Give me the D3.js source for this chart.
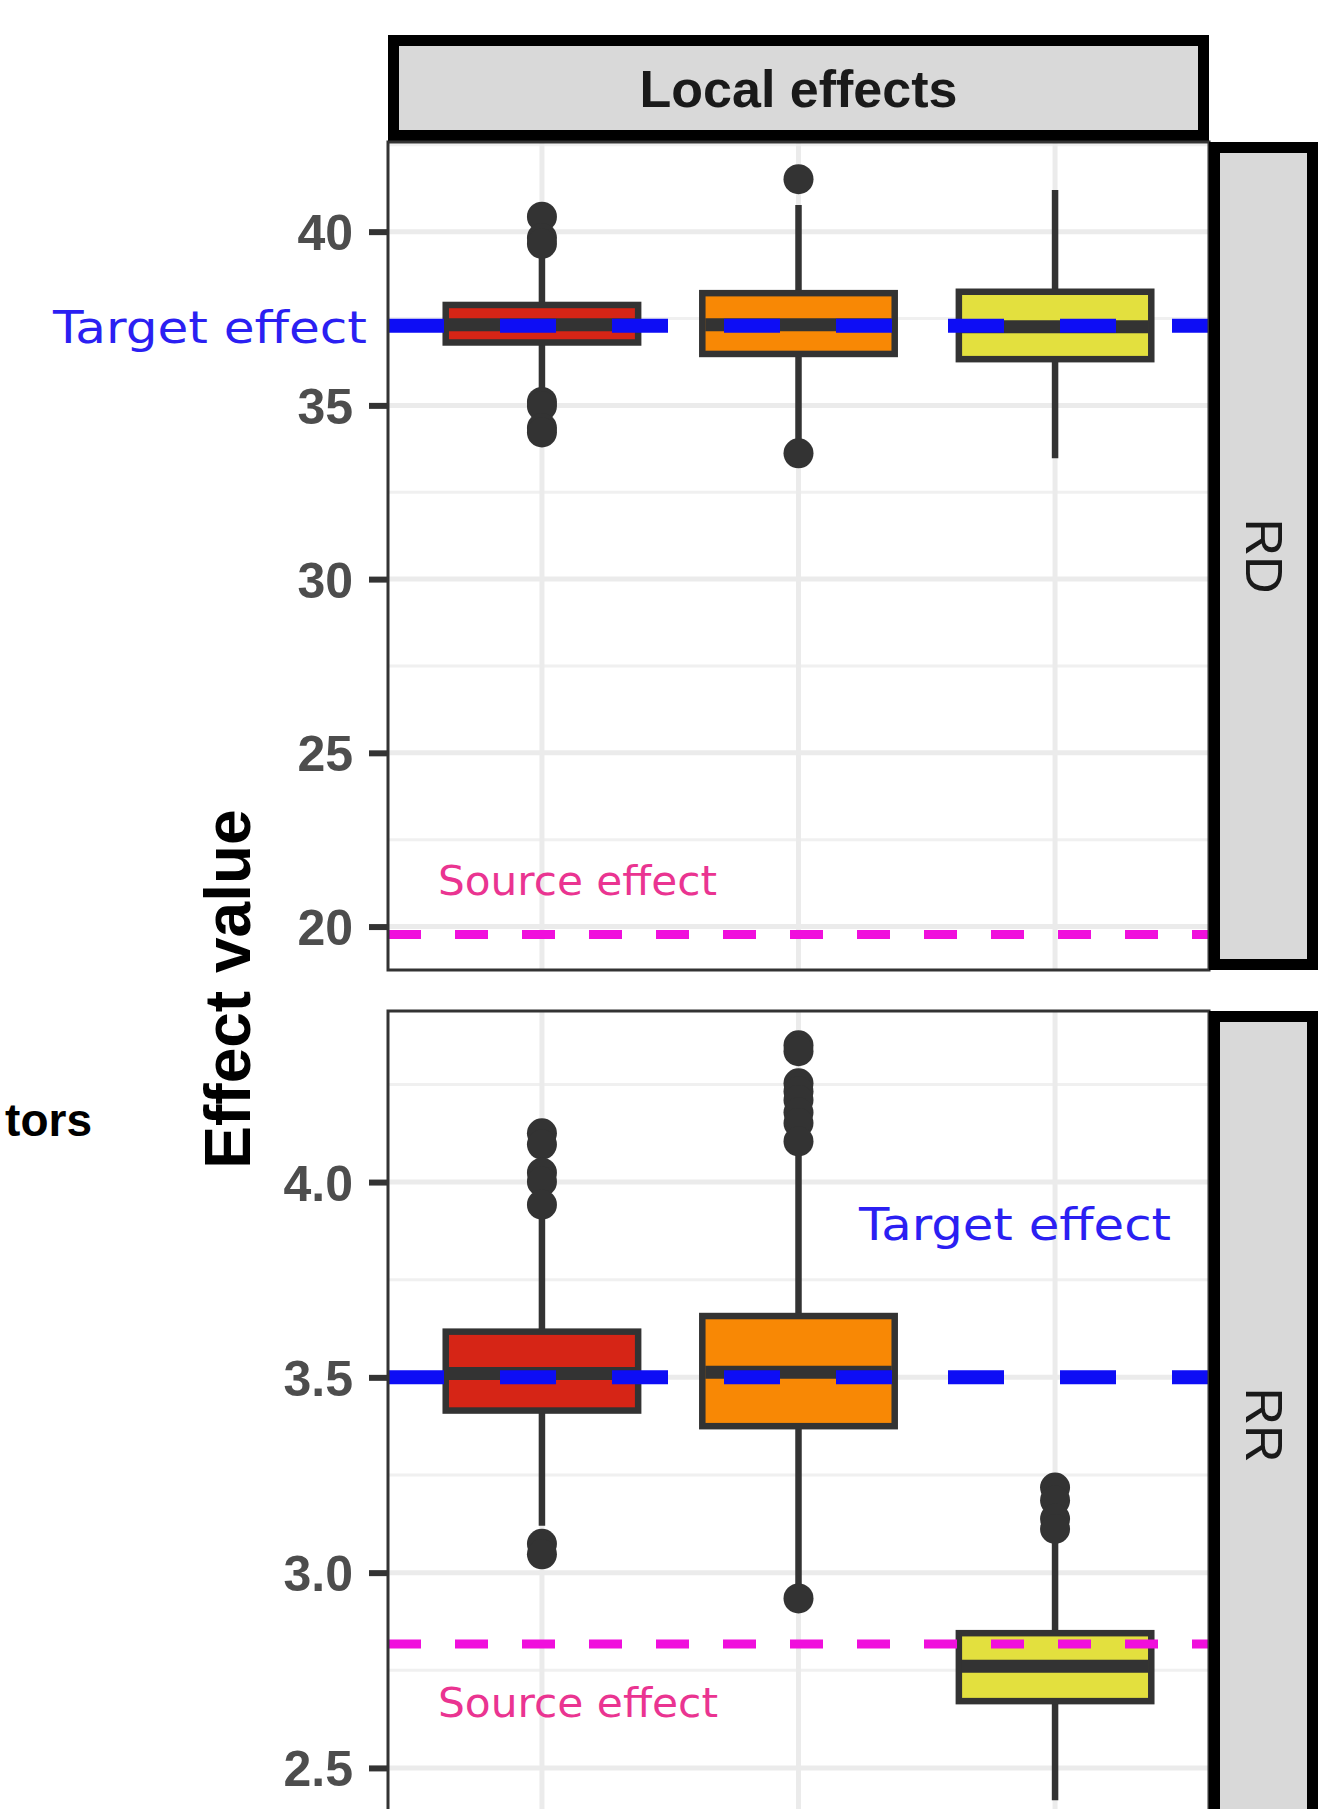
<!DOCTYPE html>
<html>
<head>
<meta charset="utf-8">
<script src="https://cdn.jsdelivr.net/npm/d3@7"></script>
<style>
    body { margin: 0; background: #fff; }
    svg { display: block; }
</style>
</head>
<body>
<svg id="svg"></svg>
<script>
// estimators (their axis labels are cropped off the bottom of the figure)
const estimators = ['Estimator 1', 'Estimator 2', 'Estimator 3']
const estimatorColors = ['#d62516', '#f88805', '#e3e03e']

// RD panel box statistics
const rdLower = [35.4, 34.0, 33.48]
const rdQ1 = [36.81, 36.48, 36.33]
const rdMedian = [37.32, 37.32, 37.26]
const rdQ3 = [37.89, 38.23, 38.27]
const rdUpper = [39.5, 40.77, 41.2]
const rdOutliers = [
    [40.43, 39.82, 39.65, 35.1, 34.98, 34.35, 34.22],
    [41.51, 33.62],
    []
]

// RR panel box statistics
const rrLower = [3.12, 2.97, 2.417]
const rrQ1 = [3.415, 3.375, 2.671]
const rrMedian = [3.51, 3.513, 2.76]
const rrQ3 = [3.617, 3.657, 2.845]
const rrUpper = [3.92, 4.08, 3.08]
const rrOutliers = [
    [4.125, 4.096, 4.024, 4.001, 3.942, 3.074, 3.047],
    [4.35, 4.335, 4.253, 4.232, 4.21, 4.178, 4.151, 4.104, 2.934],
    [3.218, 3.185, 3.138, 3.112]
]

// reference lines
const measures = ['RD', 'RR']
const targetEffect = [37.29, 3.5]
const sourceEffect = [19.77, 2.817]

// axes
const rdDomain = [18.75, 42.58]
const rdTicks = [20, 25, 30, 35, 40]
const rdMinor = [22.5, 27.5, 32.5, 37.5, 42.5]
const rrDomain = [2.318, 4.438]
const rrTicks = [2.5, 3.0, 3.5, 4.0]
const rrMinor = [2.75, 3.25, 3.75, 4.25]

const W = 1324
const H = 1809
const panelLeft = 388
const panelRight = 1209
const handFont = '"DejaVu Sans", sans-serif'
const mainFont = '"Liberation Sans", Arial, Helvetica, sans-serif'

const svg = d3.select('#svg')
    .attr('width', W)
    .attr('height', H)
    .attr('xmlns', 'http://www.w3.org/2000/svg')

svg.append('rect')
    .attr('width', W).attr('height', H)
    .attr('fill', '#fff')

const x = d3.scaleBand()
    .domain(estimators)
    .range([panelLeft, panelRight])
    .paddingInner(0.25)
    .paddingOuter(0.225)

/**
 * one facet panel
 */
function drawPanel(opt)
{
    const y = d3.scaleLinear()
        .domain(opt.domain)
        .range([opt.top + opt.height, opt.top])

    const g = svg.append('g').attr('class', 'panel-' + opt.label)

    const clipId = 'clip-' + opt.label
    g.append('clipPath').attr('id', clipId)
        .append('rect')
        .attr('x', panelLeft).attr('y', opt.top)
        .attr('width', panelRight - panelLeft).attr('height', opt.height)

    const body = g.append('g').attr('clip-path', `url(#${clipId})`)

    // grid
    body.selectAll('.minor').data(opt.minor).join('line')
        .attr('x1', panelLeft).attr('x2', panelRight)
        .attr('y1', d => y(d)).attr('y2', d => y(d))
        .attr('stroke', '#f0f0f0').attr('stroke-width', 3)

    body.selectAll('.major').data(opt.ticks).join('line')
        .attr('x1', panelLeft).attr('x2', panelRight)
        .attr('y1', d => y(d)).attr('y2', d => y(d))
        .attr('stroke', '#ebebeb').attr('stroke-width', 5)

    body.selectAll('.vgrid').data(estimators).join('line')
        .attr('x1', d => x(d) + x.bandwidth() / 2).attr('x2', d => x(d) + x.bandwidth() / 2)
        .attr('y1', opt.top).attr('y2', opt.top + opt.height)
        .attr('stroke', '#ebebeb').attr('stroke-width', 5)

    // whiskers
    body.selectAll('.whisker').data(estimators).join('line')
        .attr('x1', d => x(d) + x.bandwidth() / 2).attr('x2', d => x(d) + x.bandwidth() / 2)
        .attr('y1', (d, i) => y(opt.lower[i])).attr('y2', (d, i) => y(opt.upper[i]))
        .attr('stroke', '#333').attr('stroke-width', 6.5)

    // boxes
    body.selectAll('.box').data(estimators).join('rect')
        .attr('x', d => x(d))
        .attr('width', x.bandwidth())
        .attr('y', (d, i) => y(opt.q3[i]))
        .attr('height', (d, i) => y(opt.q1[i]) - y(opt.q3[i]))
        .attr('fill', (d, i) => estimatorColors[i])
        .attr('stroke', '#333').attr('stroke-width', 6.5)

    body.selectAll('.median').data(estimators).join('line')
        .attr('x1', d => x(d) + 3).attr('x2', d => x(d) + x.bandwidth() - 3)
        .attr('y1', (d, i) => y(opt.median[i])).attr('y2', (d, i) => y(opt.median[i]))
        .attr('stroke', '#333').attr('stroke-width', 13)

    // outliers
    const pts = []
    opt.outliers.forEach((list, i) => list.forEach(v => pts.push({ est: estimators[i], v: v })))
    body.selectAll('.outlier').data(pts).join('circle')
        .attr('cx', d => x(d.est) + x.bandwidth() / 2)
        .attr('cy', d => y(d.v))
        .attr('r', 15)
        .attr('fill', '#333')

    // target / source reference lines
    body.append('line')
        .attr('x1', panelLeft).attr('x2', panelRight)
        .attr('y1', y(opt.source)).attr('y2', y(opt.source))
        .attr('stroke', '#f00fdc').attr('stroke-width', 9)
        .attr('stroke-dasharray', '33 34')

    body.append('line')
        .attr('x1', panelLeft).attr('x2', panelRight)
        .attr('y1', y(opt.target)).attr('y2', y(opt.target))
        .attr('stroke', '#0d0df5').attr('stroke-width', 14)
        .attr('stroke-dasharray', '56 56')

    // border
    g.append('rect')
        .attr('x', panelLeft).attr('y', opt.top)
        .attr('width', panelRight - panelLeft).attr('height', opt.height)
        .attr('fill', 'none')
        .attr('stroke', '#333').attr('stroke-width', 3)

    // y axis
    const axis = g.append('g')
        .attr('transform', `translate(${panelLeft},0)`)
        .call(d3.axisLeft(y).tickValues(opt.ticks).tickFormat(opt.format).tickSize(19).tickPadding(16))
    axis.select('.domain').remove()
    axis.selectAll('.tick line').attr('stroke', '#333').attr('stroke-width', 6)
    axis.selectAll('.tick text')
        .attr('fill', '#4d4d4d')
        .attr('font-family', mainFont)
        .attr('font-weight', 'bold')
        .attr('font-size', 50)
        .attr('dy', '0.36em')

    // right strip
    const sx = panelRight + 5.5
    g.append('rect')
        .attr('x', sx).attr('y', opt.top + 5.5)
        .attr('width', 1318 - panelRight - 11).attr('height', opt.height - 11)
        .attr('fill', '#d9d9d9')
        .attr('stroke', '#000').attr('stroke-width', 11)

    g.append('text')
        .text(opt.label)
        .attr('transform', `translate(${(panelRight + 1318) / 2 - 18},${opt.top + opt.height / 2}) rotate(90)`)
        .attr('text-anchor', 'middle')
        .attr('font-family', mainFont)
        .attr('font-size', 52)
        .attr('fill', '#1a1a1a')

    return y
}

// top strip
svg.append('rect')
    .attr('x', panelLeft + 5.5).attr('y', 35 + 5.5)
    .attr('width', panelRight - panelLeft - 11).attr('height', 106 - 11)
    .attr('fill', '#d9d9d9')
    .attr('stroke', '#000').attr('stroke-width', 11)

svg.append('text')
    .text('Local effects')
    .attr('x', (panelLeft + panelRight) / 2).attr('y', 107)
    .attr('text-anchor', 'middle')
    .attr('font-family', mainFont)
    .attr('font-weight', 'bold')
    .attr('font-size', 52)
    .attr('fill', '#1a1a1a')

drawPanel({
    label: measures[0], top: 142, height: 828,
    domain: rdDomain, ticks: rdTicks, minor: rdMinor, format: d3.format('d'),
    lower: rdLower, q1: rdQ1, median: rdMedian, q3: rdQ3, upper: rdUpper, outliers: rdOutliers,
    target: targetEffect[0], source: sourceEffect[0]
})

drawPanel({
    label: measures[1], top: 1011, height: 828,
    domain: rrDomain, ticks: rrTicks, minor: rrMinor, format: d3.format('.1f'),
    lower: rrLower, q1: rrQ1, median: rrMedian, q3: rrQ3, upper: rrUpper, outliers: rrOutliers,
    target: targetEffect[1], source: sourceEffect[1]
})

// hand-written annotations
const notes = [
    { text: 'Target effect', x: 53, y: 343, len: 314, size: 44, color: '#2b1ff2' },
    { text: 'Source effect', x: 438, y: 895, len: 279, size: 40, color: '#ea3491' },
    { text: 'Target effect', x: 859, y: 1240, len: 312, size: 44, color: '#2b1ff2' },
    { text: 'Source effect', x: 438, y: 1717, len: 280, size: 40, color: '#ea3491' }
]
notes.forEach(n => {
    svg.append('text')
        .text(n.text)
        .attr('x', n.x).attr('y', n.y)
        .attr('textLength', n.len)
        .attr('lengthAdjust', 'spacingAndGlyphs')
        .attr('font-family', handFont)
        .attr('font-size', n.size)
        .attr('fill', n.color)
})

// axis title
svg.append('text')
    .text('Effect value')
    .attr('transform', 'translate(250,989) rotate(-90)')
    .attr('text-anchor', 'middle')
    .attr('font-family', mainFont)
    .attr('font-weight', 'bold')
    .attr('font-size', 64)
    .attr('fill', '#000')

// tail of the legend title, the rest is cropped off the figure
svg.append('text')
    .text('tors')
    .attr('x', 92).attr('y', 1136)
    .attr('text-anchor', 'end')
    .attr('font-family', mainFont)
    .attr('font-weight', 'bold')
    .attr('font-size', 46)
    .attr('fill', '#000')
</script>
</body>
</html>
